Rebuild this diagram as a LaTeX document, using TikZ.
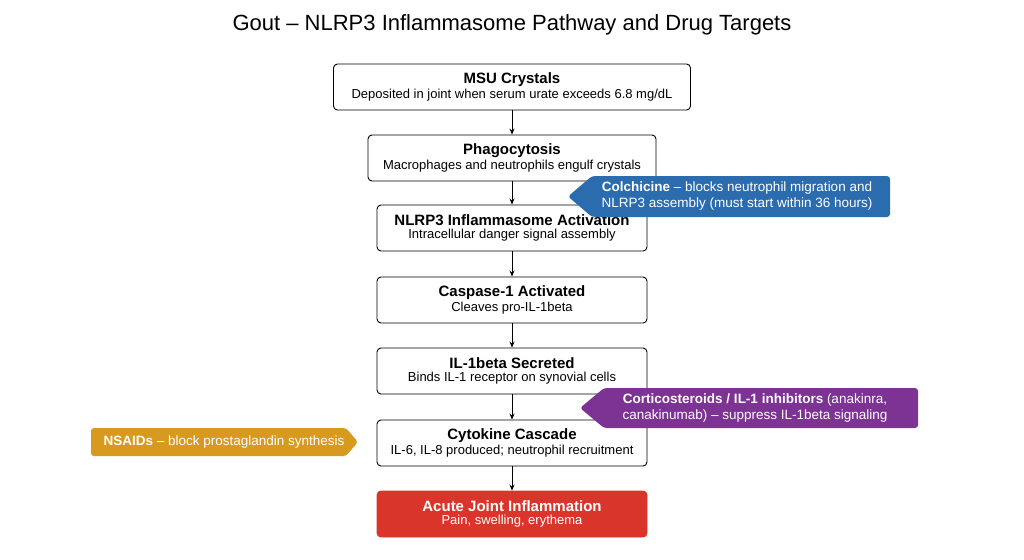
\documentclass[tikz,border=0pt]{standalone}
\usepackage{fontspec}
\setmainfont{Liberation Sans}
\usetikzlibrary{arrows.meta}
\definecolor{cblue}{HTML}{2B6CAE}
\definecolor{cpurp}{HTML}{7D3393}
\definecolor{corng}{HTML}{D8991F}
\definecolor{cred}{HTML}{D9352A}
\tikzset{
 box/.style={draw=black,line width=0.9pt,rounded corners=4pt,fill=white,minimum width=270pt,minimum height=46pt,align=center,inner sep=2pt},
 redbox/.style={box,fill=cred,draw=cred,text=white},
 arr/.style={-{Stealth[length=6pt,width=5pt]},line width=0.8pt},
 ctext/.style={text=white,align=center,font=\fontsize{13.5}{16}\selectfont}
}
\newcommand{\bx}[2]{{\fontsize{15}{18}\selectfont\bfseries #1}\\[1pt]{\fontsize{13}{15}\selectfont #2}}
\begin{document}
\begin{tikzpicture}[x=1pt,y=-1pt]
\useasboundingbox (0,0) rectangle (1024,559);
\node (title) at (512,25) {\fontsize{22}{26}\selectfont Gout -- NLRP3 Inflammasome Pathway and Drug Targets};
\node[box,minimum width=357pt] (msu) at (512,87) {\bx{MSU Crystals}{Deposited in joint when serum urate exceeds 6.8 mg/dL}};
\node[box,minimum width=288pt] (pha) at (512,158) {\bx{Phagocytosis}{Macrophages and neutrophils engulf crystals}};
\node[box] (nlr) at (512,228) {\bx{NLRP3 Inflammasome Activation}{Intracellular danger signal assembly}};
\node[box] (cas) at (512,300) {\bx{Caspase-1 Activated}{Cleaves pro-IL-1beta}};
\node[box] (il1) at (512,371) {\bx{IL-1beta Secreted}{Binds IL-1 receptor on synovial cells}};
\node[box] (cyt) at (512,443) {\bx{Cytokine Cascade}{IL-6, IL-8 produced; neutrophil recruitment}};
\node[redbox] (acu) at (512,514) {\bx{Acute Joint Inflammation}{Pain, swelling, erythema}};
\foreach \a/\b in {msu/pha,pha/nlr,nlr/cas,cas/il1,il1/cyt,cyt/acu} \draw[arr] (\a) -- (\b);
% callouts
\fill[cblue,rounded corners=3pt] (890,176) -- (890,217) -- (592,217) -- (568,196.5) -- (592,176) -- cycle;
\node[ctext] (col) at (737,196.5) {\textbf{Colchicine} -- blocks neutrophil migration and\\NLRP3 assembly (must start within 36 hours)};
\fill[cpurp,rounded corners=3pt] (918,388) -- (918,428) -- (604,428) -- (580,408) -- (604,388) -- cycle;
\node[ctext] (cor) at (755,408) {\textbf{Corticosteroids / IL-1 inhibitors} (anakinra,\\canakinumab) -- suppress IL-1beta signaling};
\fill[corng,rounded corners=3pt] (91,428) -- (346,428) -- (358,442) -- (346,456) -- (91,456) -- cycle;
\node[ctext] (nsa) at (224,442) {\textbf{NSAIDs} -- block prostaglandin synthesis};
\end{tikzpicture}
\end{document}
